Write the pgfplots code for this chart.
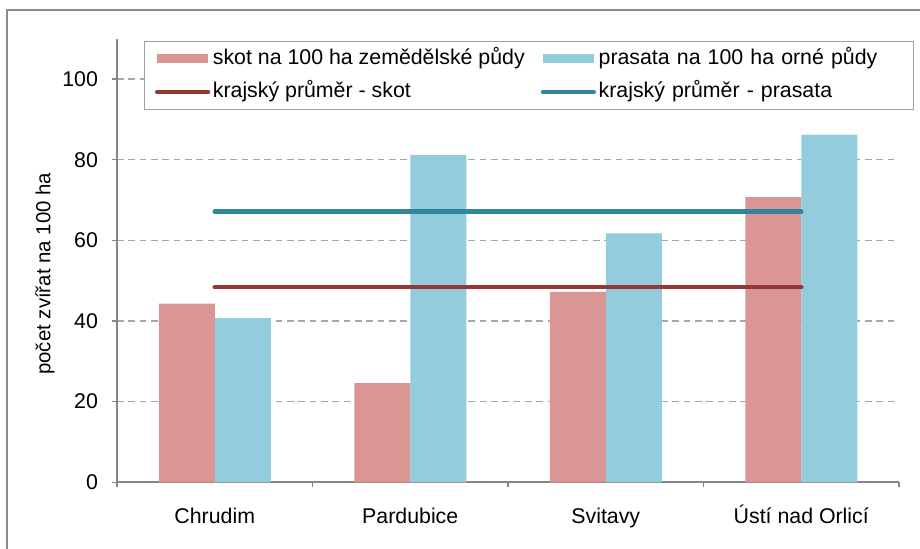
\documentclass[border=0pt]{standalone}
\usepackage{pgfplots}
\pgfplotsset{compat=1.18}
\usepackage{fontspec}
\setmainfont{Liberation Sans}
\definecolor{skotbar}{HTML}{D99694}
\definecolor{prasbar}{HTML}{93CDDD}
\definecolor{skotline}{HTML}{953735}
\definecolor{prasline}{HTML}{31859C}
\definecolor{gridgray}{HTML}{A6A6A6}
\definecolor{axisgray}{HTML}{868686}
\definecolor{framegray}{HTML}{8C8C8C}
\definecolor{leggray}{HTML}{A0A0A0}
\pgfplotsset{
  barleg/.style={legend image code/.code={\fill[##1] (0pt,-3.5pt) rectangle (38pt,3.5pt);}},
  lineleg/.style={legend image code/.code={\draw[##1] (0pt,0pt) -- (38pt,0pt);}},
}
\begin{document}
\begin{tikzpicture}[x=0.75pt,y=0.75pt]
\path[use as bounding box] (0,0) rectangle (920,549);
\draw[framegray, line width=1.2pt] (7,-20) -- (7,539) -- (940,539);
\begin{axis}[
  at={(87.75pt,50.03pt)}, anchor=south west,
  width=586.5pt, height=332.7pt, scale only axis,
  xmin=-0.5, xmax=3.5, ymin=0, ymax=110,
  ytick={0,20,...,100},
  xtick={0,1,2,3},
  xticklabels={Chrudim,Pardubice,Svitavy,Ústí nad Orlicí},
  minor xtick={-0.5,0.5,1.5,2.5,3.5},
  xtick style={draw=none},
  minor x tick style={draw=axisgray, line width=1pt},
  ytick style={draw=axisgray, line width=1pt},
  tick align=outside,
  major tick length=3.75pt, minor tick length=3.75pt,
  axis x line*=bottom, axis y line*=left,
  axis line style={-, draw=axisgray, line width=1.4pt},
  ymajorgrids,
  y grid style={dashed, dash pattern=on 5pt off 3.5pt, gridgray, line width=1pt},
  tick label style={font=\fontsize{16}{19}\selectfont},
  /pgf/number format/assume math mode=true,
  xticklabel style={anchor=base, yshift=-27.5pt},
  yticklabel style={xshift=-7pt},
  ylabel={počet zvířat na 100 ha},
  ylabel style={at={(axis description cs:-0.092,0.47)}, anchor=center, font=\fontsize{15.3}{18}\selectfont},
  ybar=0pt, bar width=42pt,
  legend columns=2,
  legend cell align=left,
  legend style={at={(axis description cs:0.0341,0.9955)}, anchor=north west,
    draw=leggray, line width=1pt, font=\fontsize{16}{19}\selectfont,
    inner xsep=8pt, inner ysep=5.8pt,
    nodes={text height=11.5pt, text depth=3pt, inner ysep=0pt, inner xsep=2pt},
    row sep=10.3pt,
    /tikz/every even column/.append style={column sep=10pt},
    /tikz/column 4/.append style={text width=226pt}},
]
\addplot[fill=skotbar, draw=none, barleg]
  coordinates {(0,44.3) (1,24.6) (2,47.2) (3,70.7)};
\addlegendentry{skot na 100 ha zemědělské půdy}
\addplot[fill=prasbar, draw=none, barleg]
  coordinates {(0,40.7) (1,81.1) (2,61.7) (3,86.2)};
\addlegendentry{prasata na 100 ha orné půdy}
\addplot[sharp plot, draw=skotline, line width=3.4pt, line cap=round, lineleg]
  coordinates {(0,48.4) (3,48.4)};
\addlegendentry{krajský průměr - skot}
\addplot[sharp plot, draw=prasline, line width=3.4pt, line cap=round, lineleg]
  coordinates {(0,67.1) (3,67.1)};
\addlegendentry{krajský průměr - prasata}
\end{axis}
\end{tikzpicture}
\end{document}
